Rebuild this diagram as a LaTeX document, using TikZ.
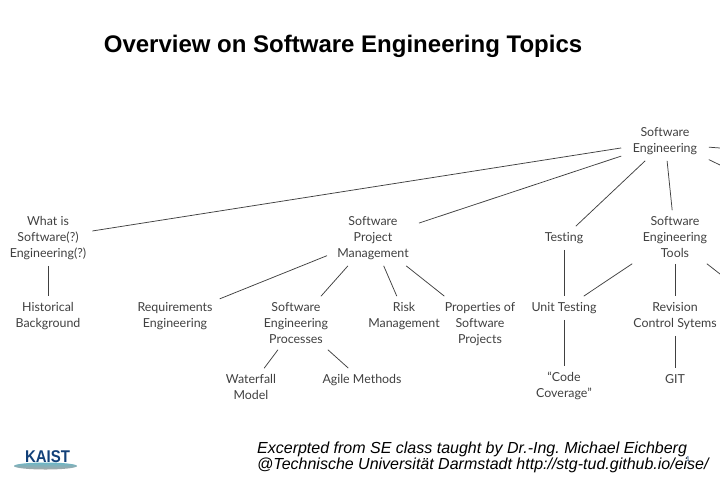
\documentclass[tikz,border=0pt]{standalone}
\usepackage{fontspec}
\setmainfont[Ligatures=CommonOff]{Lato}
\newfontfamily\headfont{Liberation Sans}
\definecolor{topicgrey}{rgb}{0.25,0.25,0.25}
\definecolor{kaistblue}{rgb}{0.07,0.25,0.47}
\definecolor{kaistteal}{rgb}{0.42,0.72,0.78}
\tikzset{
    topic/.style={align=center, text=topicgrey, inner xsep=10pt, inner ysep=6pt,
        font=\fontsize{12.4}{16}\selectfont},
    link/.style={draw=topicgrey, line width=0.75pt},
}
\begin{document}
\begin{tikzpicture}
    [x=1pt, y=-1pt]
    \useasboundingbox (0,0) rectangle (720,480);
    \node[font=\headfont\bfseries\fontsize{24}{28}\selectfont] (title) at (343,46)
        {Overview on Software Engineering Topics};
    % topics
    \node[topic, inner xsep=11.5pt] (root) at (665,141) {Software\\Engineering};
    \node[topic, inner xsep=6pt] (whatis) at (48,238) {What is\\Software(?)\\Engineering(?)};
    \node[topic] (project) at (373,238) {Software\\Project\\Management};
    \node[topic] (testing) at (564,238) {Testing};
    \node[topic, inner xsep=11pt] (tools) at (675,237) {Software\\Engineering\\Tools};
    \node[topic] (history) at (48,316) {Historical\\Background};
    \node[topic, inner xsep=7pt] (require) at (175,316) {Requirements\\Engineering};
    \node[topic] (process) at (296,323) {Software\\Engineering\\Processes};
    \node[topic] (risk) at (404,316) {Risk\\Management};
    \node[topic] (props) at (480,324) {Properties of\\Software\\Projects};
    \node[topic] (unit) at (564,308) {Unit Testing};
    \node[topic] (revision) at (675,316) {Revision\\Control Sytems};
    \node[topic] (waterfall) at (251,387) {Waterfall\\Model};
    \node[topic] (agile) at (362,380) {Agile Methods};
    \node[topic] (coverage) at (564,386) {“Code\\Coverage”};
    \node[topic] (git) at (675,379) {GIT};
    % ends that leave the page
    \coordinate (offa) at (720,148);
    \coordinate (offb) at (720,165);
    \coordinate (offc) at (720,274);
    % connectors
    \draw[link] (root.189) -- (whatis.9);
    \draw[link] (root.199) -- (project.18);
    \draw[link] (root.225) -- (testing.45);
    \draw[link] (root.276) -- (tools.96);
    \draw[link] (root.-8) -- (offa);
    \draw[link] (root.-23) -- (offb);
    \draw[link] (tools.212) -- (unit.31);
    \draw[link] (tools.south) -- (revision.north);
    \draw[link] (tools.-40) -- (offc);
    \draw[link] (testing.south) -- (unit.north);
    \draw[link] (unit.south) -- (coverage.north);
    \draw[link] (revision.south) -- (git.north);
    \draw[link] (whatis.south) -- (history.north);
    \draw[link] (project.201) -- (require.21);
    \draw[link] (project.228) -- (process.47);
    \draw[link] (project.-69) -- (risk.110);
    \draw[link] (project.-40) -- (props.142);
    \draw[link] (process.236) -- (waterfall.55);
    \draw[link] (process.-40) -- (agile.139);
    % logo
    \shade[top color=kaistteal, bottom color=gray!70]
        (45.5,466) ellipse (31.5 and 3.5);
    \node[font=\headfont\bfseries\fontsize{17}{17}\selectfont, text=kaistblue, inner sep=0pt, xscale=0.88]
        (kaist) at (47.5,456.5) {KAIST};
    % footer
    \node[font=\headfont\itshape\fontsize{16}{16}\selectfont, align=left, anchor=west, inner sep=0pt]
        (source) at (257,457) {Excerpted from SE class taught by Dr.-Ing.\ Michael Eichberg\\
        @Technische Universität Darmstadt http://stg-tud.github.io/eise/};
    \node[font=\headfont\fontsize{7}{8}\selectfont, text=kaistblue, inner sep=0pt] (pageno) at (688,459) {1};
\end{tikzpicture}
\end{document}
